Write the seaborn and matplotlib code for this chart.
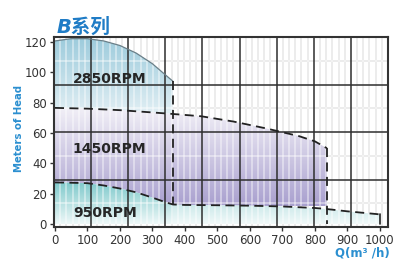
import numpy as np
import matplotlib
matplotlib.use("Agg")
import matplotlib.pyplot as plt
from matplotlib.colors import LinearSegmentedColormap
import seaborn as sns

# ---- data ----
q_2850 = [0, 50, 100, 150, 200, 250, 300, 330, 363]
h_2850 = [120.5, 122, 122, 120.5, 117.5, 112.5, 105.5, 100, 94]

q_1450 = [0, 100, 200, 300, 363, 450, 550, 650, 750, 800, 837]
h_1450 = [76.5, 76, 75, 73.5, 72.5, 71, 67.5, 63, 58, 54.5, 50]

q_950 = [0, 50, 100, 150, 200, 250, 300, 340, 363, 400, 500, 600, 700, 800, 837, 900, 950, 1000]
h_950 = [27.5, 27.3, 27, 25.5, 23.5, 21, 17.5, 14.5, 13, 12.7, 12.5, 12.2, 11.7, 10.7, 10, 8.5, 7.5, 6.5]

speed_labels = ["2850RPM", "1450RPM", "950RPM"]
label_x = [55, 55, 55]
label_y = [95.5, 49.7, 7.1]

x_ticks = [0, 100, 200, 300, 400, 500, 600, 700, 800, 900, 1000]
y_ticks = [0, 20, 40, 60, 80, 100, 120]

title = "B系列"
y_label = "Meters of Head"
x_label = "Q(m³ /h)"

# ---- figure ----
sns.set_theme(style="white")
plt.rcParams['font.family'] = ['DejaVu Sans', 'Noto Sans CJK SC']

W, H = 407, 267
fig = plt.figure(figsize=(W / 100, H / 100), dpi=100)
ax = fig.add_axes([54 / W, 1 - 227 / H, 334 / W, 190 / H])
ax.set_facecolor("white")

XL = (-3, 1025)
YL = (-1.8, 123.1)

def grad_fill(xs, y_hi, y_lo, c_top, c_bot, ytop, ybot):
    poly = ax.fill_between(xs, y_hi, y_lo, color='none', lw=0)
    path = poly.get_paths()[0]
    grad = np.linspace(0, 1, 256).reshape(-1, 1)
    cmap = LinearSegmentedColormap.from_list('g', [c_top, c_bot])
    im = ax.imshow(grad, cmap=cmap, aspect='auto', origin='upper',
                   extent=[xs.min(), xs.max(), ybot, ytop], zorder=1,
                   interpolation='bilinear')
    im.set_clip_path(path, transform=ax.transData)

q2, h2 = np.array(q_2850), np.array(h_2850)
q1, h1 = np.array(q_1450), np.array(h_1450)
q0, h0 = np.array(q_950), np.array(h_950)

# 2850 region (above 1450 curve)
xs = np.linspace(0, q2[-1], 200)
grad_fill(xs, np.interp(xs, q2, h2), np.interp(xs, q1, h1),
          '#9ccbdc', '#e2eff4', 123, 72)
# 1450 region (above 950 curve)
xs = np.linspace(0, q1[-1], 300)
grad_fill(xs, np.interp(xs, q1, h1), np.interp(xs, q0, h0),
          '#f2f0f7', '#a9a0cf', 77, 12)
# 950 region, left part
xs = np.linspace(0, q2[-1], 200)
grad_fill(xs, np.interp(xs, q0, h0), np.zeros_like(xs),
          '#7cc8ca', '#eef8f8', 28, 0)
# 950 region, right part
xs = np.linspace(q2[-1], q0[-1], 300)
grad_fill(xs, np.interp(xs, q0, h0), np.zeros_like(xs),
          '#cbe9ea', '#f1f9f9', 13, 0)

# minor grid: gray on white, whitish stripes over fills
for k in range(1, 54):
    if k % 6:
        xv = XL[0] + (XL[1] - XL[0]) * k / 54
        ax.axvline(xv, color='#dcdcdc', lw=1.3, zorder=0.5)
        ax.axvline(xv, color='white', lw=1.3, alpha=0.45, zorder=2)
for k in range(1, 8, 2):
    yv = YL[0] + (YL[1] - YL[0]) * k / 8
    ax.axhline(yv, color='#dcdcdc', lw=1.3, zorder=0.5)
    ax.axhline(yv, color='white', lw=1.3, alpha=0.45, zorder=2)
# major grid
for k in range(1, 9):
    ax.axvline(XL[0] + (XL[1] - XL[0]) * k / 9, color='#2e2e2e', lw=1.1, zorder=3)
for k in (2, 4, 6):
    ax.axhline(YL[0] + (YL[1] - YL[0]) * k / 8, color='#2e2e2e', lw=1.1, zorder=3)

# curves
dash = dict(color='#222222', lw=1.3, dashes=(5, 3), zorder=5)
sns.lineplot(x=q2, y=h2, ax=ax, color='#6a7f88', lw=0.9, zorder=5)
sns.lineplot(x=q1, y=h1, ax=ax, **dash)
sns.lineplot(x=q0, y=h0, ax=ax, **dash)
ax.plot([q2[-1], q2[-1]], [h2[-1], np.interp(q2[-1], q0, h0)], **dash)
ax.plot([q1[-1], q1[-1]], [h1[-1], 0], **dash)
ax.plot([q0[-1], q0[-1]], [h0[-1], 0], color='#222222', lw=1.2, zorder=5)

for t, x, y in zip(speed_labels, label_x, label_y):
    ax.text(x, y, t, ha='left', va='center', fontsize=10, fontweight='bold',
            color='#262626', zorder=6)

ax.set_xlim(*XL)
ax.set_ylim(*YL)
ax.set_xticks(x_ticks)
ax.set_yticks(y_ticks)
ax.tick_params(axis='both', labelsize=8.5, colors='#333333', length=3, width=1,
               direction='out', pad=2)
ax.tick_params(axis='x', bottom=True)
ax.tick_params(axis='y', left=True)
for s in ax.spines.values():
    s.set_color('#333333')
    s.set_linewidth(1.5)
    s.set_zorder(7)
ax.set_xlabel('')
ax.set_ylabel('')

fig.text(19 / W, 1 - 128 / H, y_label, rotation=90, ha='center', va='center',
         fontsize=7.3, fontweight='bold', color='#2b8fd0')
fig.text(390 / W, 1 - 253 / H, x_label, ha='right', va='center',
         fontsize=8.5, fontweight='bold', color='#2b8fd0')
fig.text(57 / W, 1 - 27 / H, title, ha='left', va='center', fontsize=14,
         fontweight='bold', fontstyle='italic', color='#1f7cc6')

fig.savefig('out.png', dpi=100)
